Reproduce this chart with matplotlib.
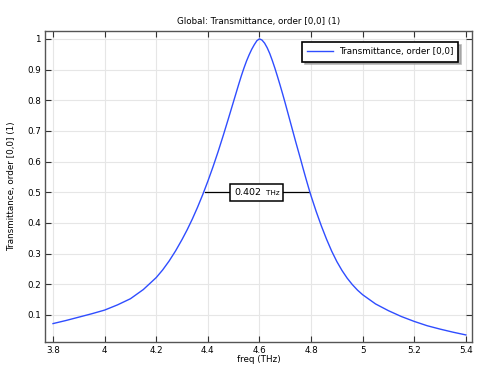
import numpy as np
from matplotlib import pyplot as plt
from matplotlib.ticker import FormatStrFormatter, MultipleLocator
from matplotlib.offsetbox import TextArea, HPacker, AnnotationBbox

# values
freq = [3.8, 3.85, 3.9, 3.95, 4.0, 4.05, 4.1, 4.15, 4.2, 4.225, 4.25, 4.275,
        4.3, 4.32, 4.34, 4.36, 4.38, 4.4, 4.42, 4.44, 4.46, 4.48, 4.5, 4.51,
        4.52, 4.53, 4.54, 4.55, 4.56, 4.57, 4.58, 4.59, 4.6, 4.61, 4.62, 4.63,
        4.64, 4.65, 4.66, 4.67, 4.68, 4.69, 4.7, 4.71, 4.72, 4.73, 4.74, 4.75,
        4.76, 4.77, 4.78, 4.79, 4.8, 4.82, 4.84, 4.86, 4.88, 4.9, 4.92, 4.94,
        4.96, 4.98, 5.0, 5.05, 5.1, 5.15, 5.2, 5.25, 5.3, 5.35, 5.4]
trans = [0.072, 0.082, 0.093, 0.104, 0.116, 0.133, 0.153, 0.183, 0.222, 0.247,
         0.276, 0.309, 0.346, 0.378, 0.413, 0.451, 0.492, 0.536, 0.583, 0.633,
         0.686, 0.741, 0.797, 0.825, 0.853, 0.880, 0.905, 0.928, 0.948, 0.966,
         0.981, 0.994, 1.000, 0.996, 0.986, 0.971, 0.952, 0.929, 0.904, 0.877,
         0.849, 0.820, 0.790, 0.759, 0.728, 0.697, 0.666, 0.636, 0.606, 0.575,
         0.545, 0.516, 0.488, 0.437, 0.390, 0.347, 0.308, 0.274, 0.245, 0.220,
         0.199, 0.181, 0.166, 0.136, 0.114, 0.095, 0.079, 0.065, 0.054, 0.044,
         0.035]
fwhm_left, fwhm_right, half = 4.388, 4.792, 0.5
fwhm_value, fwhm_unit = "0.402", "THz"

plt.rcParams['font.family'] = ['DejaVu Sans']
fs = 6.3
fig = plt.figure(figsize=(4.79, 3.66), dpi=100)
ax = fig.add_axes([0.094, 0.0656, 0.891, 0.85])

ax.plot(freq, trans, color='#2f4dff', lw=1.0, label='Transmittance, order [0,0]', zorder=3)

# FWHM marker
ax.plot([fwhm_left, fwhm_right], [half, half], color='black', lw=0.9, zorder=2)
packed = HPacker(children=[TextArea(fwhm_value, textprops=dict(fontsize=6.8)),
                           TextArea(fwhm_unit, textprops=dict(fontsize=5.2))],
                 align='baseline', pad=0, sep=3)
ab = AnnotationBbox(packed, ((fwhm_left + fwhm_right) / 2, half), frameon=True,
                    pad=0.3, zorder=4, box_alignment=(0.5, 0.5))
ab.patch.set_edgecolor('black')
ab.patch.set_linewidth(1.1)
ab.patch.set_boxstyle('square,pad=0.3')
ax.add_artist(ab)

ax.set_xlim(3.769, 5.423)
ax.set_ylim(0.012, 1.026)
ax.xaxis.set_major_locator(MultipleLocator(0.2))
ax.yaxis.set_major_locator(MultipleLocator(0.1))
ax.xaxis.set_major_formatter(FormatStrFormatter('%g'))
ax.yaxis.set_major_formatter(FormatStrFormatter('%g'))
ax.tick_params(direction='in', top=True, right=True, labelsize=fs, length=4,
               width=0.8, color='#333333', pad=3)
ax.grid(True, color='#e6e6e6', lw=0.8)
ax.set_axisbelow(True)
for s in ax.spines.values():
    s.set_color('#555555')
    s.set_linewidth(1.0)

ax.set_title('Global: Transmittance, order [0,0] (1)', fontsize=fs, pad=5)
ax.set_xlabel('freq (THz)', fontsize=fs, labelpad=0)
ax.set_ylabel('Transmittance, order [0,0] (1)', fontsize=fs, labelpad=8)

leg = ax.legend(loc='upper right', fontsize=fs, fancybox=False,
                shadow={'color': '0.6', 'alpha': 0.7},
                framealpha=1, edgecolor='black', borderpad=0.6, handlelength=3.0,
                handletextpad=0.6, bbox_to_anchor=(0.979, 0.978))
leg.get_frame().set_linewidth(1.2)

fig.savefig('out.png', dpi=100)
